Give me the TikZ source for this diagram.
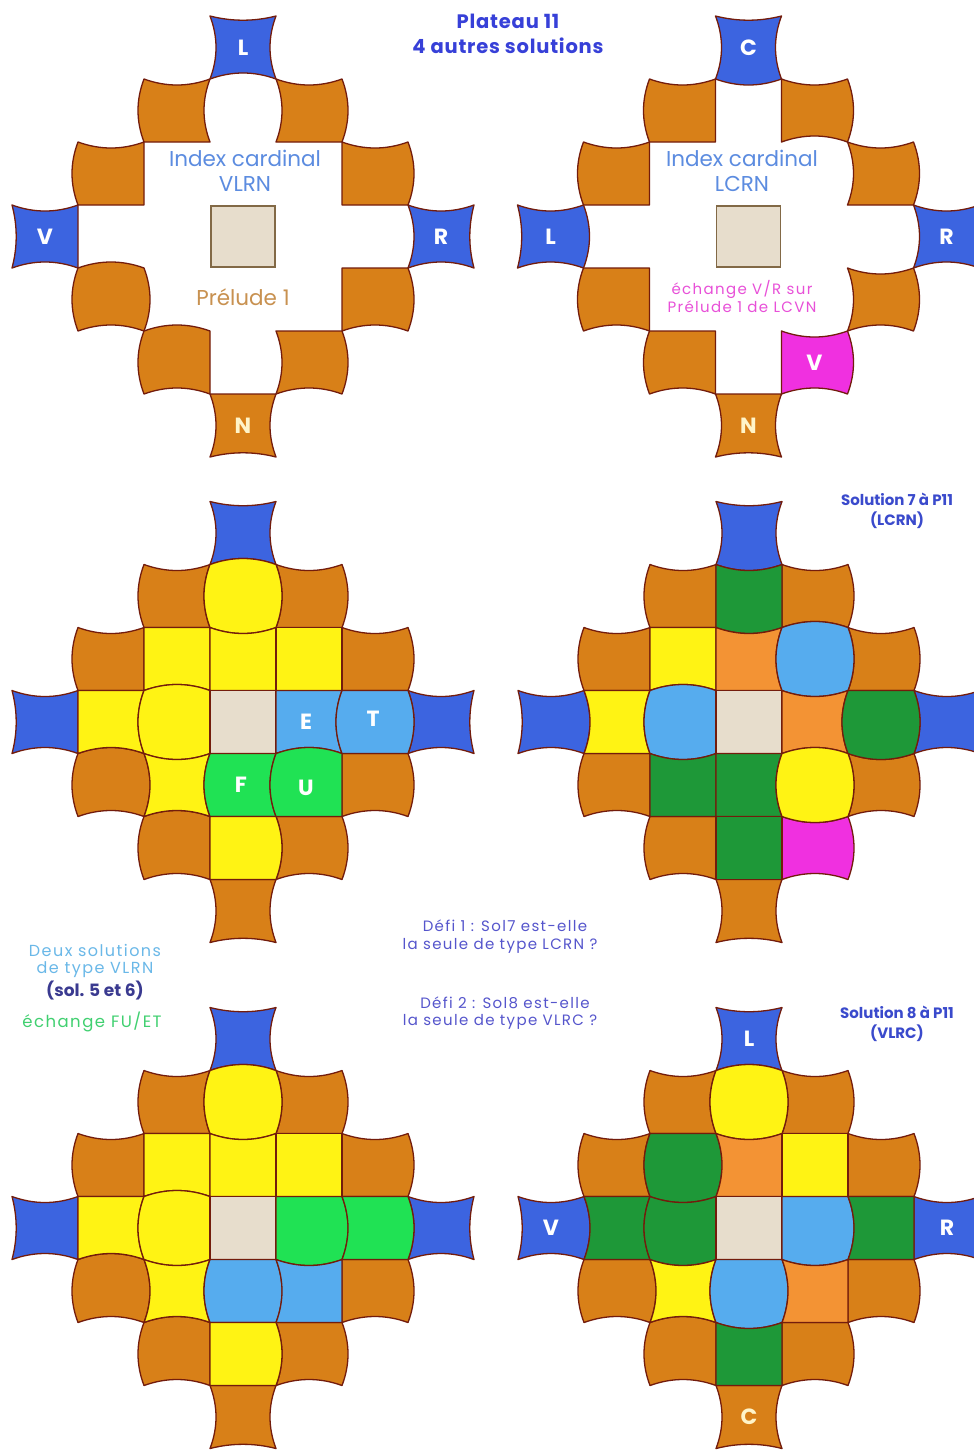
\documentclass[tikz,border=0pt]{standalone}
\usepackage{fontspec}
\setmainfont{Poppins}
\newfontfamily\lsfont{Poppins}[LetterSpace=9]
\newfontfamily\lsfontb{Poppins}[LetterSpace=4]
\definecolor{fo}{RGB}{216,128,24}
\definecolor{lo}{RGB}{243,147,52}
\definecolor{ye}{RGB}{255,243,20}
\definecolor{lb}{RGB}{86,172,238}
\definecolor{bg}{RGB}{32,226,84}
\definecolor{dg}{RGB}{30,152,56}
\definecolor{bt}{RGB}{60,100,224}
\definecolor{mg}{RGB}{240,48,224}
\definecolor{be}{RGB}{231,221,204}
\definecolor{beb}{RGB}{130,105,70}
\definecolor{edgec}{RGB}{115,28,12}
\definecolor{tipc}{RGB}{95,35,105}
\definecolor{ttlc}{RGB}{55,64,216}
\definecolor{idxc}{RGB}{92,140,224}
\definecolor{prec}{RGB}{200,145,80}
\definecolor{magc}{RGB}{232,80,216}
\definecolor{solc}{RGB}{58,74,204}
\definecolor{deuxc}{RGB}{106,184,232}
\definecolor{navc}{RGB}{58,58,144}
\definecolor{echc}{RGB}{64,208,112}
\definecolor{defc}{RGB}{85,85,204}
\definecolor{palec}{RGB}{255,244,200}
\newcommand\cc[7]{%
  \path[cellline,fill=#3]
   ({66*(#2)-33},{63*(#1)-31.5})
   .. controls ({66*(#2)-11},{63*(#1)-31.5+8*(#4)}) and ({66*(#2)+11},{63*(#1)-31.5+8*(#4)}) ..
   ({66*(#2)+33},{63*(#1)-31.5})
   .. controls ({66*(#2)+33+8*(#5)},{63*(#1)-10.5}) and ({66*(#2)+33+8*(#5)},{63*(#1)+10.5}) ..
   ({66*(#2)+33},{63*(#1)+31.5})
   .. controls ({66*(#2)+11},{63*(#1)+31.5+8*(#6)}) and ({66*(#2)-11},{63*(#1)+31.5+8*(#6)}) ..
   ({66*(#2)-33},{63*(#1)+31.5})
   .. controls ({66*(#2)-33+8*(#7)},{63*(#1)+10.5}) and ({66*(#2)-33+8*(#7)},{63*(#1)-10.5}) ..
   cycle;}
\tikzset{
  cellline/.style={draw=edgec, line width=1.3pt, line join=round},
  lett/.style={text=white, inner sep=0pt, font=\fontsize{22}{22}\selectfont\bfseries},
  lettp/.style={lett, text=palec},
  tTitle/.style={text=ttlc, inner sep=0pt, font=\fontsize{19.5}{19.5}\selectfont\lsfontb\bfseries},
  tIdx/.style={text=idxc, inner sep=0pt, font=\fontsize{21.5}{21.5}\selectfont},
  tPre/.style={text=prec, inner sep=0pt, font=\fontsize{21.5}{21.5}\selectfont},
  tMag/.style={text=magc, inner sep=0pt, font=\fontsize{15}{15}\selectfont\lsfont},
  tSol/.style={text=solc, inner sep=0pt, font=\fontsize{15}{15}\selectfont\bfseries},
  tDeux/.style={text=deuxc, inner sep=0pt, font=\fontsize{16}{16}\selectfont\lsfont},
  tNav/.style={text=navc, inner sep=0pt, font=\fontsize{17}{17}\selectfont\bfseries},
  tEch/.style={text=echc, inner sep=0pt, font=\fontsize{16.5}{16.5}\selectfont\lsfont},
  tDefi/.style={text=defc, inner sep=0pt, font=\fontsize{15}{15}\selectfont\lsfont},
  censq/.style={fill=be, draw=beb, line width=1.3pt}
}
\begin{document}
\begin{tikzpicture}[x=1pt,y=-1pt]
\useasboundingbox (0,0) rectangle (974,1452);
\fill[white] (0,0) rectangle (974,1452);

% ---------- Board 1 ----------
\begin{scope}[shift={(243,236.5)}]
\cc{-3}{0}{bt}{0.7}{-1}{-1}{1}
\cc{-2}{-1}{fo}{1}{-1}{0}{-1}
\cc{-2}{1}{fo}{1}{1}{0}{1}
\cc{-1}{-2}{fo}{1}{0}{0}{-1}
\cc{-1}{2}{fo}{1}{1}{0}{0}
\cc{0}{-3}{bt}{1}{0}{-1}{0.7}
\cc{0}{3}{bt}{1}{-0.7}{-1}{1}
\cc{1}{-2}{fo}{-1}{1}{-1}{-1}
\cc{1}{2}{fo}{0}{1}{-1}{0}
\cc{2}{-1}{fo}{-1}{0}{-1}{-1}
\cc{2}{1}{fo}{0}{1}{-1}{1}
\cc{3}{0}{fo}{0}{-1}{-0.7}{1}
\path[censq] (-32,-30.5) rectangle (32,30.5);
\node[lett] (b1L) at (0,-189) {L};
\node[lett] (b1V) at (-198,0) {V};
\node[lett] (b1R) at (198,0) {R};
\node[lettp] (b1N) at (0,189) {N};
\end{scope}

% ---------- Board 2 ----------
\begin{scope}[shift={(748.5,236.5)}]
\cc{-3}{0}{bt}{0.7}{-1}{1}{1}
\cc{-2}{-1}{fo}{1}{0}{0}{-1}
\cc{-2}{1}{fo}{1}{1}{-1}{0}
\cc{-1}{-2}{fo}{1}{0}{0}{-1}
\cc{-1}{2}{fo}{1}{1}{0}{1}
\cc{0}{-3}{bt}{1}{1}{-1}{0.7}
\cc{0}{3}{bt}{1}{-0.7}{-1}{1}
\cc{1}{-2}{fo}{0}{0}{-1}{-1}
\cc{1}{2}{fo}{1}{1}{-1}{1}
\cc{2}{-1}{fo}{0}{0}{-1}{-1}
\cc{2}{1}{mg}{1}{1}{-1}{0}
\cc{3}{0}{fo}{0}{-1}{-0.7}{1}
\path[censq] (-32,-30.5) rectangle (32,30.5);
\node[lett] (b2C) at (0,-189) {C};
\node[lett] (b2L) at (-198,0) {L};
\node[lett] (b2R) at (198,0) {R};
\node[lett] (b2V) at (66,126) {V};
\node[lettp] (b2N) at (0,189) {N};
\end{scope}

% ---------- Board 3 ----------
\begin{scope}[shift={(243,722)}]
\cc{-3}{0}{bt}{0.7}{-1}{-1}{1}
\cc{-2}{-1}{fo}{1}{-1}{0}{-1}
\cc{-2}{1}{fo}{1}{1}{0}{1}
\cc{-1}{-2}{fo}{1}{0}{0}{-1}
\cc{-1}{2}{fo}{1}{1}{0}{0}
\cc{0}{-3}{bt}{1}{0}{-1}{0.7}
\cc{0}{3}{bt}{1}{-0.7}{-1}{1}
\cc{1}{-2}{fo}{-1}{1}{-1}{-1}
\cc{1}{2}{fo}{0}{1}{-1}{0}
\cc{2}{-1}{fo}{-1}{0}{-1}{-1}
\cc{2}{1}{fo}{0}{1}{-1}{1}
\cc{3}{0}{fo}{0}{-1}{-0.7}{1}
\cc{-2}{0}{ye}{-1}{1}{1}{-1}
\cc{-1}{-1}{ye}{0}{0}{-1}{0}
\cc{-1}{0}{ye}{1}{0}{0}{0}
\cc{-1}{1}{ye}{0}{0}{0}{0}
\cc{0}{-2}{ye}{0}{-1}{-1}{0}
\cc{0}{-1}{ye}{-1}{0}{1}{-1}
\cc{0}{0}{be}{0}{0}{0}{0}
\cc{0}{1}{lb}{0}{-1}{-1}{0}
\cc{0}{2}{lb}{0}{1}{0}{-1}
\cc{1}{-1}{ye}{1}{-1}{-1}{1}
\cc{1}{0}{bg}{0}{-1}{0}{-1}
\cc{1}{1}{bg}{-1}{0}{0}{-1}
\cc{2}{0}{ye}{0}{1}{0}{0}
\node[lett] (b3E) at (63,0) {E};
\node[lett] (b3T) at (130,-3) {T};
\node[lett] (b3F) at (-2,63) {F};
\node[lett] (b3U) at (63,66) {U};
\end{scope}

% ---------- Board 4 ----------
\begin{scope}[shift={(749,722)}]
\cc{-3}{0}{bt}{0.7}{-1}{1}{1}
\cc{-2}{-1}{fo}{1}{0}{0}{-1}
\cc{-2}{1}{fo}{1}{1}{-1}{0}
\cc{-1}{-2}{fo}{1}{0}{0}{-1}
\cc{-1}{2}{fo}{1}{1}{0}{1}
\cc{0}{-3}{bt}{1}{1}{-1}{0.7}
\cc{0}{3}{bt}{1}{-0.7}{-1}{1}
\cc{1}{-2}{fo}{0}{0}{-1}{-1}
\cc{1}{2}{fo}{1}{1}{-1}{1}
\cc{2}{-1}{fo}{0}{0}{-1}{-1}
\cc{2}{1}{mg}{1}{1}{-1}{0}
\cc{3}{0}{fo}{0}{-1}{-0.7}{1}
\cc{-2}{0}{dg}{1}{0}{1}{0}
\cc{-1}{-1}{ye}{0}{0}{-1}{0}
\cc{-1}{0}{lo}{1}{-1}{0}{0}
\cc{-1}{1}{lb}{-1}{1}{1}{-1}
\cc{0}{-2}{ye}{0}{-1}{0}{1}
\cc{0}{-1}{lb}{-1}{0}{1}{-1}
\cc{0}{0}{be}{0}{0}{0}{0}
\cc{0}{1}{lo}{1}{-1}{-1}{0}
\cc{0}{2}{dg}{0}{1}{1}{-1}
\cc{1}{-1}{dg}{1}{0}{0}{0}
\cc{1}{0}{dg}{0}{-1}{0}{0}
\cc{1}{1}{ye}{-1}{1}{1}{-1}
\cc{2}{0}{dg}{0}{0}{0}{0}
\end{scope}

% ---------- Board 5 ----------
\begin{scope}[shift={(243,1228)}]
\cc{-3}{0}{bt}{0.7}{-1}{-1}{1}
\cc{-2}{-1}{fo}{1}{-1}{0}{-1}
\cc{-2}{1}{fo}{1}{1}{0}{1}
\cc{-1}{-2}{fo}{1}{0}{0}{-1}
\cc{-1}{2}{fo}{1}{1}{0}{0}
\cc{0}{-3}{bt}{1}{0}{-1}{0.7}
\cc{0}{3}{bt}{1}{-0.7}{-1}{1}
\cc{1}{-2}{fo}{-1}{1}{-1}{-1}
\cc{1}{2}{fo}{0}{1}{-1}{0}
\cc{2}{-1}{fo}{-1}{0}{-1}{-1}
\cc{2}{1}{fo}{0}{1}{-1}{1}
\cc{3}{0}{fo}{0}{-1}{-0.7}{1}
\cc{-2}{0}{ye}{-1}{1}{1}{-1}
\cc{-1}{-1}{ye}{0}{0}{-1}{0}
\cc{-1}{0}{ye}{1}{0}{0}{0}
\cc{-1}{1}{ye}{0}{0}{0}{0}
\cc{0}{-2}{ye}{0}{-1}{-1}{0}
\cc{0}{-1}{ye}{-1}{0}{1}{-1}
\cc{0}{0}{be}{0}{0}{0}{0}
\cc{0}{1}{bg}{0}{1}{1}{0}
\cc{0}{2}{bg}{0}{1}{0}{1}
\cc{1}{-1}{ye}{1}{-1}{-1}{1}
\cc{1}{0}{lb}{0}{1}{0}{-1}
\cc{1}{1}{lb}{1}{0}{0}{1}
\cc{2}{0}{ye}{0}{1}{0}{0}
\end{scope}

% ---------- Board 6 ----------
\begin{scope}[shift={(749,1228)}]
\cc{-3}{0}{bt}{0.7}{-1}{-1}{1}
\cc{-2}{-1}{fo}{1}{-1}{0}{-1}
\cc{-2}{1}{fo}{1}{1}{0}{1}
\cc{-1}{-2}{fo}{1}{-1}{0}{-1}
\cc{-1}{2}{fo}{1}{1}{0}{0}
\cc{0}{-3}{bt}{1}{1}{-1}{0.7}
\cc{0}{3}{bt}{1}{-0.7}{-1}{0}
\cc{1}{-2}{fo}{0}{1}{-1}{-1}
\cc{1}{2}{fo}{0}{1}{-1}{0}
\cc{2}{-1}{fo}{-1}{0}{-1}{-1}
\cc{2}{1}{fo}{0}{1}{-1}{0}
\cc{3}{0}{fo}{0}{-1}{-0.7}{1}
\cc{-2}{0}{ye}{-1}{1}{1}{-1}
\cc{-1}{-1}{dg}{0}{1}{1}{-1}
\cc{-1}{0}{lo}{1}{0}{0}{1}
\cc{-1}{1}{ye}{0}{0}{0}{0}
\cc{0}{-2}{dg}{0}{-1}{0}{1}
\cc{0}{-1}{dg}{1}{0}{1}{-1}
\cc{0}{0}{be}{0}{0}{0}{0}
\cc{0}{1}{lb}{0}{1}{1}{0}
\cc{0}{2}{dg}{0}{0}{0}{1}
\cc{1}{-1}{ye}{1}{-1}{-1}{1}
\cc{1}{0}{lb}{0}{1}{1}{-1}
\cc{1}{1}{lo}{1}{0}{0}{1}
\cc{2}{0}{dg}{1}{0}{0}{0}
\node[lett] (b6L) at (0,-189) {L};
\node[lett] (b6V) at (-198,0) {V};
\node[lett] (b6R) at (198,0) {R};
\node[lettp] (b6C) at (0,189) {C};
\end{scope}

% ---------- Texts ----------
\node[tTitle] (ttl1) at (508,21) {Plateau 11};
\node[tTitle] (ttl2) at (508,46) {4 autres solutions};
\node[tIdx] (i1a) at (245,158) {Index cardinal};
\node[tIdx] (i1b) at (245,184) {VLRN};
\node[tPre] (p1) at (243,297) {Prélude 1};
\node[tIdx] (i2a) at (742,158) {Index cardinal};
\node[tIdx] (i2b) at (742,184) {LCRN};
\node[tMag] (m1) at (742,289) {échange V/R sur};
\node[tMag] (m2) at (742,307) {Prélude 1 de LCVN};
\node[tSol] (s7a) at (897,499) {Solution 7 à P11};
\node[tSol] (s7b) at (897,520) {(LCRN)};
\node[tSol] (s8a) at (897,1012) {Solution 8 à P11};
\node[tSol] (s8b) at (897,1033) {(VLRC)};
\node[tDeux] (d1) at (95,950) {Deux solutions};
\node[tDeux] (d2) at (95,970) {de type VLRN};
\node[tNav] (d3) at (95,991) {(sol. 5 et 6)};
\node[tEch] (d4) at (92,1022) {échange FU/ET};
\node[tDefi] (f1) at (505,926) {Défi 1 : Sol7 est-elle};
\node[tDefi] (f2) at (500,946) {la seule de type LCRN ?};
\node[tDefi] (f3) at (505,1003) {Défi 2 : Sol8 est-elle};
\node[tDefi] (f4) at (500,1022) {la seule de type VLRC ?};
\end{tikzpicture}
\end{document}
